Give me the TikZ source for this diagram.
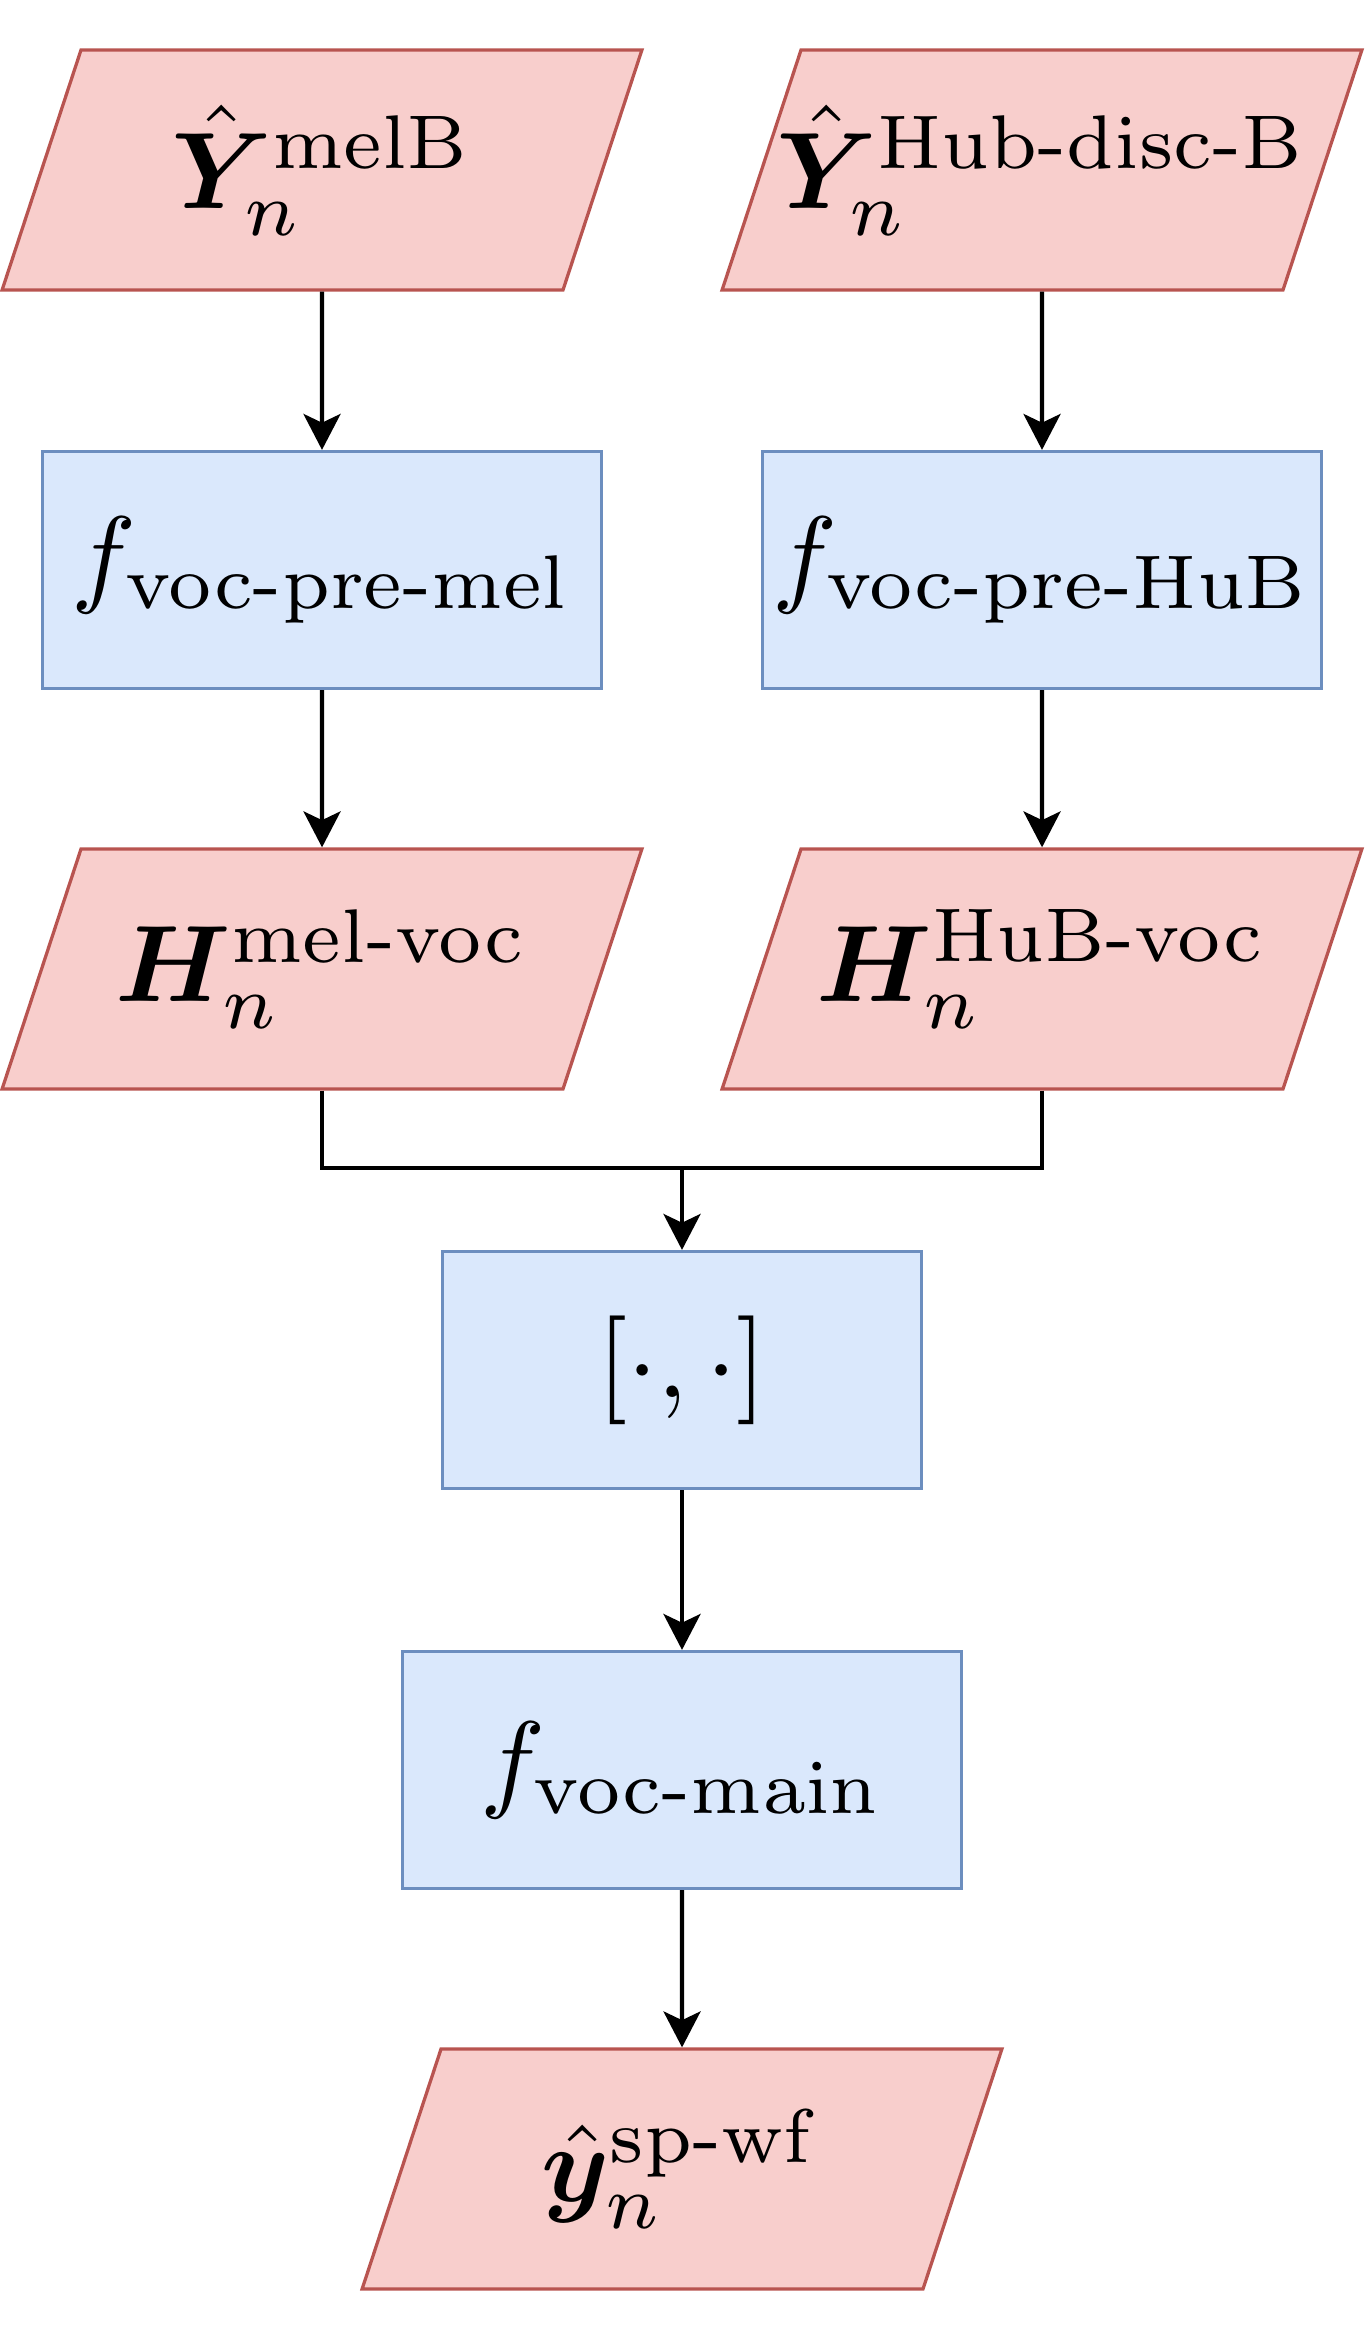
\documentclass[tikz,border=0pt]{standalone}
\usepackage{amsmath}
\usepackage{bm}
\usepackage{xcolor}
\definecolor{flow-red-fill}{HTML}{F8CECC}
\definecolor{flow-red-line}{HTML}{B85450}
\definecolor{flow-blue-fill}{HTML}{DAE8FC}
\definecolor{flow-blue-line}{HTML}{6C8EBF}
\usepackage{tikz}
\usetikzlibrary{shapes.geometric, arrows.meta}

% text of a data box, centred on the math axis in a fixed-width body
\newcommand{\datatext}[1]{\hbox to 44.34pt{\hss$\vcenter{\hbox{$#1$}}$\hss}}

\begin{document}
\begin{tikzpicture}[x=0.092pt, y=-0.092pt,
    data/.style={trapezium, trapezium left angle=71.8, trapezium right angle=108.2,
                 inner sep=0pt, text height=13.54pt, text depth=8.54pt,
                 fill=flow-red-fill, draw=flow-red-line, line width=0.3pt},
    netbox/.style={rectangle, minimum width=51.4pt, minimum height=21.8pt,
                   inner sep=0pt, fill=flow-blue-fill, draw=flow-blue-line, line width=0.3pt},
    link/.style={line width=0.4pt},
    flow/.style={link, -{Stealth[length=3.3pt, width=3.4pt, inset=0.8pt]}}]

    % Canvas
    \useasboundingbox (0, 0) rectangle (1368, 2332);

    % Inputs
    \node[data] (ymel) at (322, 170) {\datatext{\hat{\bm{Y}}_n^{\mathrm{melB}}}};
    \node[data] (yhub) at (1042, 170) {\datatext{\hat{\bm{Y}}_n^{\mathrm{Hub\text{-}disc\text{-}B}}}};

    % Pre-nets
    \node[netbox] (premel) at (322, 570) {$f_{\mathrm{voc\text{-}pre\text{-}mel}}$};
    \node[netbox] (prehub) at (1042, 570) {$f_{\mathrm{voc\text{-}pre\text{-}HuB}}$};

    % Hidden features
    \node[data] (hmel) at (322, 969) {\datatext{\bm{H}_n^{\mathrm{mel\text{-}voc}}}};
    \node[data] (hhub) at (1042, 969) {\datatext{\bm{H}_n^{\mathrm{HuB\text{-}voc}}}};

    % Concat and main net
    \node[netbox, minimum width=44pt] (cat) at (682, 1370) {$[\cdot, \cdot]$};
    \node[netbox] (main) at (682, 1770) {$f_{\mathrm{voc\text{-}main}}$};

    % Output
    \node[data] (out) at (682, 2169) {\datatext{\hat{\bm{y}}_n^{\mathrm{sp\text{-}wf}}}};

    % Edges
    \coordinate (join) at (682, 1168);
    \draw[flow] (ymel) -- (premel);
    \draw[flow] (yhub) -- (prehub);
    \draw[flow] (premel) -- (hmel);
    \draw[flow] (prehub) -- (hhub);
    \draw[link] (hmel.south) |- (join);
    \draw[link] (hhub.south) |- (join);
    \draw[flow] (join) -- (cat);
    \draw[flow] (cat) -- (main);
    \draw[flow] (main) -- (out);

\end{tikzpicture}
\end{document}
